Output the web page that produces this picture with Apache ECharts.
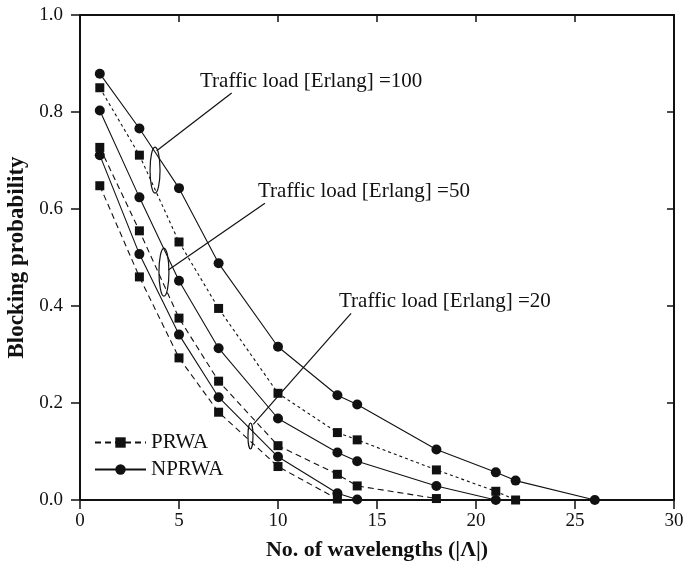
<!DOCTYPE html>
<html>
<head>
<meta charset="utf-8">
<script src="https://cdn.jsdelivr.net/npm/echarts@6/dist/echarts.min.js"></script>
<style>
  html, body { margin: 0; padding: 0; background: #fff; }
  #chart { width: 684px; height: 569px; }
</style>
</head>
<body>
<div id="chart"></div>
<script>
// Number of wavelengths on the x axis
const wavelengths = [1, 3, 5, 7, 10, 13, 14, 18, 21, 22, 26];

// Blocking probability per scheme and traffic load (Erlang)
const nprwa100 = [0.879, 0.766, 0.643, 0.488, 0.316, 0.216, 0.197, 0.104, 0.057, 0.040, 0.0];
const prwa100  = [0.850, 0.711, 0.532, 0.395, 0.220, 0.139, 0.124, 0.062, 0.018, 0.0];
const nprwa50  = [0.803, 0.624, 0.452, 0.313, 0.168, 0.098, 0.080, 0.029, 0.0];
const prwa50   = [0.727, 0.555, 0.375, 0.245, 0.112, 0.053, 0.029, 0.003];
const nprwa20  = [0.711, 0.507, 0.341, 0.212, 0.089, 0.014, 0.001];
const prwa20   = [0.648, 0.460, 0.293, 0.181, 0.069, 0.002];

const xTicks = [0, 5, 10, 15, 20, 25, 30];
const yTicks = [0.0, 0.2, 0.4, 0.6, 0.8, 1.0];

const loadLabels = [
  'Traffic load [Erlang] =100',
  'Traffic load [Erlang] =50',
  'Traffic load [Erlang] =20'
];

const INK = '#111';
const SERIF = '"Liberation Serif", "Times New Roman", serif';

function pairs(vals) {
  return vals.map((v, i) => [wavelengths[i], v]);
}

function prwaSeries(vals, dash) {
  return {
    name: 'PRWA', type: 'line', data: pairs(vals),
    symbol: 'rect', symbolSize: 9,
    itemStyle: { color: INK },
    lineStyle: { color: INK, width: 1.1, type: dash },
    clip: true, z: 3
  };
}
function nprwaSeries(vals) {
  return {
    name: 'NPRWA', type: 'line', data: pairs(vals),
    symbol: 'circle', symbolSize: 10,
    itemStyle: { color: INK },
    lineStyle: { color: INK, width: 1.1, type: 'solid' },
    clip: true, z: 3
  };
}

const chart = echarts.init(document.getElementById('chart'), null, { renderer: 'canvas' });

const axisLine = { show: true, onZero: false, lineStyle: { color: INK, width: 2 } };

chart.setOption({
  backgroundColor: '#fff',
  animation: false,
  grid: { left: 80, right: 10, top: 15, bottom: 69, outerBoundsMode: 'none', containLabel: false },
  legend: {
    data: ['PRWA', 'NPRWA'],
    orient: 'vertical',
    left: 89, top: 427,
    itemWidth: 51, itemHeight: 13, itemGap: 6,
    textStyle: { fontFamily: SERIF, fontSize: 21, color: INK },
    selectedMode: false
  },
  xAxis: [
    {
      type: 'value', position: 'bottom', min: xTicks[0], max: xTicks[xTicks.length - 1], interval: 5,
      axisLine: axisLine,
      axisTick: { show: true, inside: false, length: 9, lineStyle: { color: INK, width: 1.5 } },
      axisLabel: { fontFamily: SERIF, fontSize: 19, color: INK, margin: 12 },
      splitLine: { show: false },
      name: 'No. of wavelengths (|\u039B|)', nameLocation: 'middle', nameGap: 39,
      nameTextStyle: { fontFamily: SERIF, fontSize: 22, fontWeight: 'bold', color: INK }
    },
    {
      type: 'value', position: 'top', min: xTicks[0], max: xTicks[xTicks.length - 1], interval: 5,
      axisLine: axisLine,
      axisTick: { show: true, inside: true, length: 7, lineStyle: { color: INK, width: 1.5 } },
      axisLabel: { show: false }, splitLine: { show: false }
    }
  ],
  yAxis: [
    {
      type: 'value', position: 'left', min: yTicks[0], max: yTicks[yTicks.length - 1], interval: 0.2,
      axisLine: axisLine,
      axisTick: { show: true, inside: false, length: 9, lineStyle: { color: INK, width: 1.5 } },
      axisLabel: { fontFamily: SERIF, fontSize: 19, color: INK, margin: 17, formatter: v => v.toFixed(1) },
      splitLine: { show: false },
      name: 'Blocking probability', nameLocation: 'middle', nameGap: 49, nameRotate: 90,
      nameTextStyle: { fontFamily: SERIF, fontSize: 23, fontWeight: 'bold', color: INK }
    },
    {
      type: 'value', position: 'right', min: yTicks[0], max: yTicks[yTicks.length - 1], interval: 0.2,
      axisLine: axisLine,
      axisTick: { show: true, inside: true, length: 7, lineStyle: { color: INK, width: 1.5 } },
      axisLabel: { show: false }, splitLine: { show: false }
    }
  ],
  series: [
    prwaSeries(prwa50, [6, 4]),
    nprwaSeries(nprwa50),
    prwaSeries(prwa100, [3, 3]),
    nprwaSeries(nprwa100),
    prwaSeries(prwa20, [6, 4]),
    nprwaSeries(nprwa20)
  ]
});

// Callouts: ellipse around each load's pair of curves, a leader line and a caption.
// Positions are given in data units and converted through the grid.
const callouts = [
  { ellipse: [3.79, 0.680], rx: 5, ry: 23, from: [3.87, 0.720], to: [7.66, 0.839], text: [6.06, 0.862], label: loadLabels[0] },
  { ellipse: [4.24, 0.470], rx: 5, ry: 24, from: [4.46, 0.474], to: [9.34, 0.612], text: [8.99, 0.637], label: loadLabels[1] },
  { ellipse: [8.61, 0.132], rx: 2.5, ry: 13, from: [8.75, 0.156], to: [13.69, 0.385], text: [13.08, 0.410], label: loadLabels[2] }
];

const toPx = p => chart.convertToPixel({ gridIndex: 0 }, p);
const graphics = [];
callouts.forEach(c => {
  const e = toPx(c.ellipse), a = toPx(c.from), b = toPx(c.to), t = toPx(c.text);
  graphics.push({
    type: 'ellipse', shape: { cx: e[0], cy: e[1], rx: c.rx, ry: c.ry },
    style: { fill: 'none', stroke: INK, lineWidth: 1.2 }, z: 10
  });
  graphics.push({
    type: 'line', shape: { x1: a[0], y1: a[1], x2: b[0], y2: b[1] },
    style: { stroke: INK, lineWidth: 1.2 }, z: 10
  });
  graphics.push({
    type: 'text', x: t[0], y: t[1],
    style: { text: c.label, font: '21px ' + SERIF, fill: INK, align: 'left', verticalAlign: 'middle' },
    z: 10
  });
});
chart.setOption({ graphic: graphics });
</script>
</body>
</html>
